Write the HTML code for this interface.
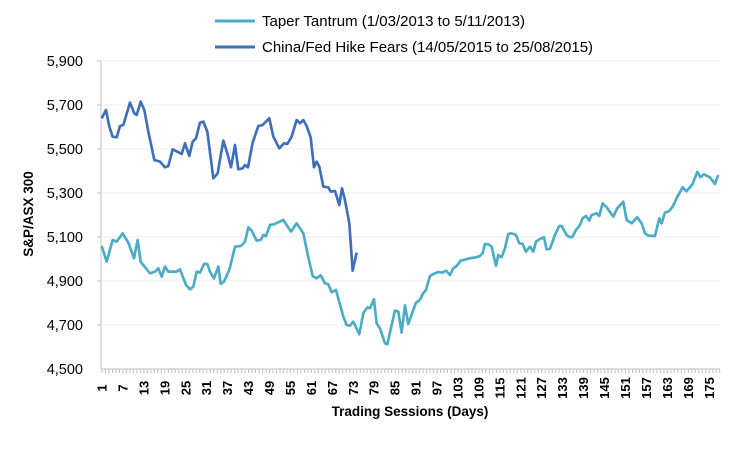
<!DOCTYPE html>
<html><head><meta charset="utf-8"><style>
body{margin:0;background:#fff;}
svg text{font-family:"Liberation Sans",sans-serif;fill:#000;}
</style></head><body>
<svg width="744" height="445" viewBox="0 0 744 445" xmlns="http://www.w3.org/2000/svg">
<rect width="744" height="445" fill="#fff"/>
<g stroke="#eeeeee" stroke-width="1">
<line x1="101" y1="61" x2="720" y2="61"/><line x1="101" y1="105" x2="720" y2="105"/>
<line x1="101" y1="149" x2="720" y2="149"/><line x1="101" y1="193" x2="720" y2="193"/>
<line x1="101" y1="237" x2="720" y2="237"/><line x1="101" y1="281" x2="720" y2="281"/>
<line x1="101" y1="325" x2="720" y2="325"/>
</g>
<g font-size="14.5" text-anchor="end" style="fill:#404040">
<text x="83" y="66" fill="#404040">5,900</text><text x="83" y="110" fill="#404040">5,700</text><text x="83" y="154" fill="#404040">5,500</text>
<text x="83" y="198" fill="#404040">5,300</text><text x="83" y="242" fill="#404040">5,100</text><text x="83" y="286" fill="#404040">4,900</text>
<text x="83" y="330" fill="#404040">4,700</text><text x="83" y="374" fill="#404040">4,500</text>
</g>
<line x1="101" y1="61" x2="101" y2="369" stroke="#bfbfbf"/>
<line x1="97" y1="61" x2="101" y2="61" stroke="#bfbfbf"/>
<line x1="97" y1="105" x2="101" y2="105" stroke="#bfbfbf"/>
<line x1="97" y1="149" x2="101" y2="149" stroke="#bfbfbf"/>
<line x1="97" y1="193" x2="101" y2="193" stroke="#bfbfbf"/>
<line x1="97" y1="237" x2="101" y2="237" stroke="#bfbfbf"/>
<line x1="97" y1="281" x2="101" y2="281" stroke="#bfbfbf"/>
<line x1="97" y1="325" x2="101" y2="325" stroke="#bfbfbf"/>
<line x1="101" y1="369" x2="720" y2="369" stroke="#bfbfbf"/>
<g id="ticks" stroke="#bfbfbf"></g>
<g id="xl" font-size="13" font-weight="bold" text-anchor="middle"></g>
<g transform="translate(90,50) scale(0.3333)" fill="none" stroke-linejoin="round">
<polyline stroke="#3f6fba" stroke-width="8" points="35,205 48,180 58,230 68,260 80,262 90,228 100,225 120,158 133,190 140,195 152,155 163,180 175,245 193,330 210,335 225,352 235,348 248,298 262,305 275,312 285,280 298,318 308,275 318,265 330,218 340,215 352,245 370,385 383,370 400,272 412,310 423,352 435,285 445,358 458,355 465,345 474,352 488,278 505,228 518,225 538,205 550,260 568,295 582,280 592,282 605,260 620,210 630,220 640,210 650,228 662,262 672,352 680,335 688,350 700,410 715,412 722,425 735,423 748,465 756,415 765,450 778,520 788,662 800,608"/>
<polyline stroke="#4bacc6" stroke-width="8" points="35,588 50,635 68,570 80,575 98,550 115,578 132,625 143,570 152,635 180,670 195,665 205,655 215,680 225,650 235,665 260,665 270,658 288,705 300,718 310,710 320,665 330,668 342,642 352,642 360,665 372,685 385,650 392,702 402,695 418,660 435,590 453,588 465,575 475,532 485,542 500,572 512,570 520,555 528,558 540,525 552,523 580,510 603,545 620,520 640,550 655,622 668,678 680,685 692,676 705,700 715,703 725,727 738,720 760,800 770,825 780,827 790,815 808,853 820,790 832,772 840,775 852,748 860,820 870,835 885,880 892,883 915,782 925,785 935,848 945,766 955,822 978,758 990,750"/>
<polyline transform="translate(930,300)" stroke="#4bacc6" stroke-width="8" points="60,450 68,432 78,420 90,378 100,372 115,366 128,368 138,362 150,375 160,355 170,348 182,332 192,330 205,326 215,324 228,322 240,318 248,310 255,282 265,283 275,290 288,348 295,315 305,322 315,295 325,252 335,250 348,255 358,280 368,282 378,305 390,290 400,305 408,275 420,267 432,262 440,298 450,296 465,255 478,228 485,228 500,255 510,262 518,260 528,240 540,225 548,205 558,198 568,212 575,195 590,190 598,198 608,160 620,172 640,200 652,175 670,155 680,210 695,220 712,202 725,220 735,250 745,257 765,258 778,205 785,220 795,188 808,183 818,170 830,145 848,112 860,124 878,102 892,66 902,82 912,73 930,82 945,102 955,75"/>
</g>
<line x1="215" y1="21" x2="255" y2="21" stroke="#4bacc6" stroke-width="3"/>
<text x="262" y="26" font-size="15">Taper Tantrum (1/03/2013 to 5/11/2013)</text>
<line x1="215" y1="47" x2="255" y2="47" stroke="#3f6fba" stroke-width="3"/>
<text x="262" y="52" font-size="15">China/Fed Hike Fears (14/05/2015 to 25/08/2015)</text>
<text x="410" y="416" font-size="13.5" font-weight="bold" text-anchor="middle">Trading Sessions (Days)</text>
<text transform="translate(33,214) rotate(-90)" font-size="13.5" font-weight="bold" text-anchor="middle">S&amp;P/ASX 300</text>
</svg>
<script>
var t=document.getElementById('ticks'),l=document.getElementById('xl'),ns='http://www.w3.org/2000/svg';
for(var d=1;d<=178;d++){var x=102+(d-1)*3.49;var ln=document.createElementNS(ns,'line');
ln.setAttribute('x1',x);ln.setAttribute('x2',x);ln.setAttribute('y1',369);ln.setAttribute('y2',373);t.appendChild(ln);
if((d-1)%6==0){var tx=document.createElementNS(ns,'text');tx.setAttribute('transform','translate('+(x+4.5)+',388) rotate(-90)');tx.textContent=d;l.appendChild(tx);}}
</script>
</body></html>
